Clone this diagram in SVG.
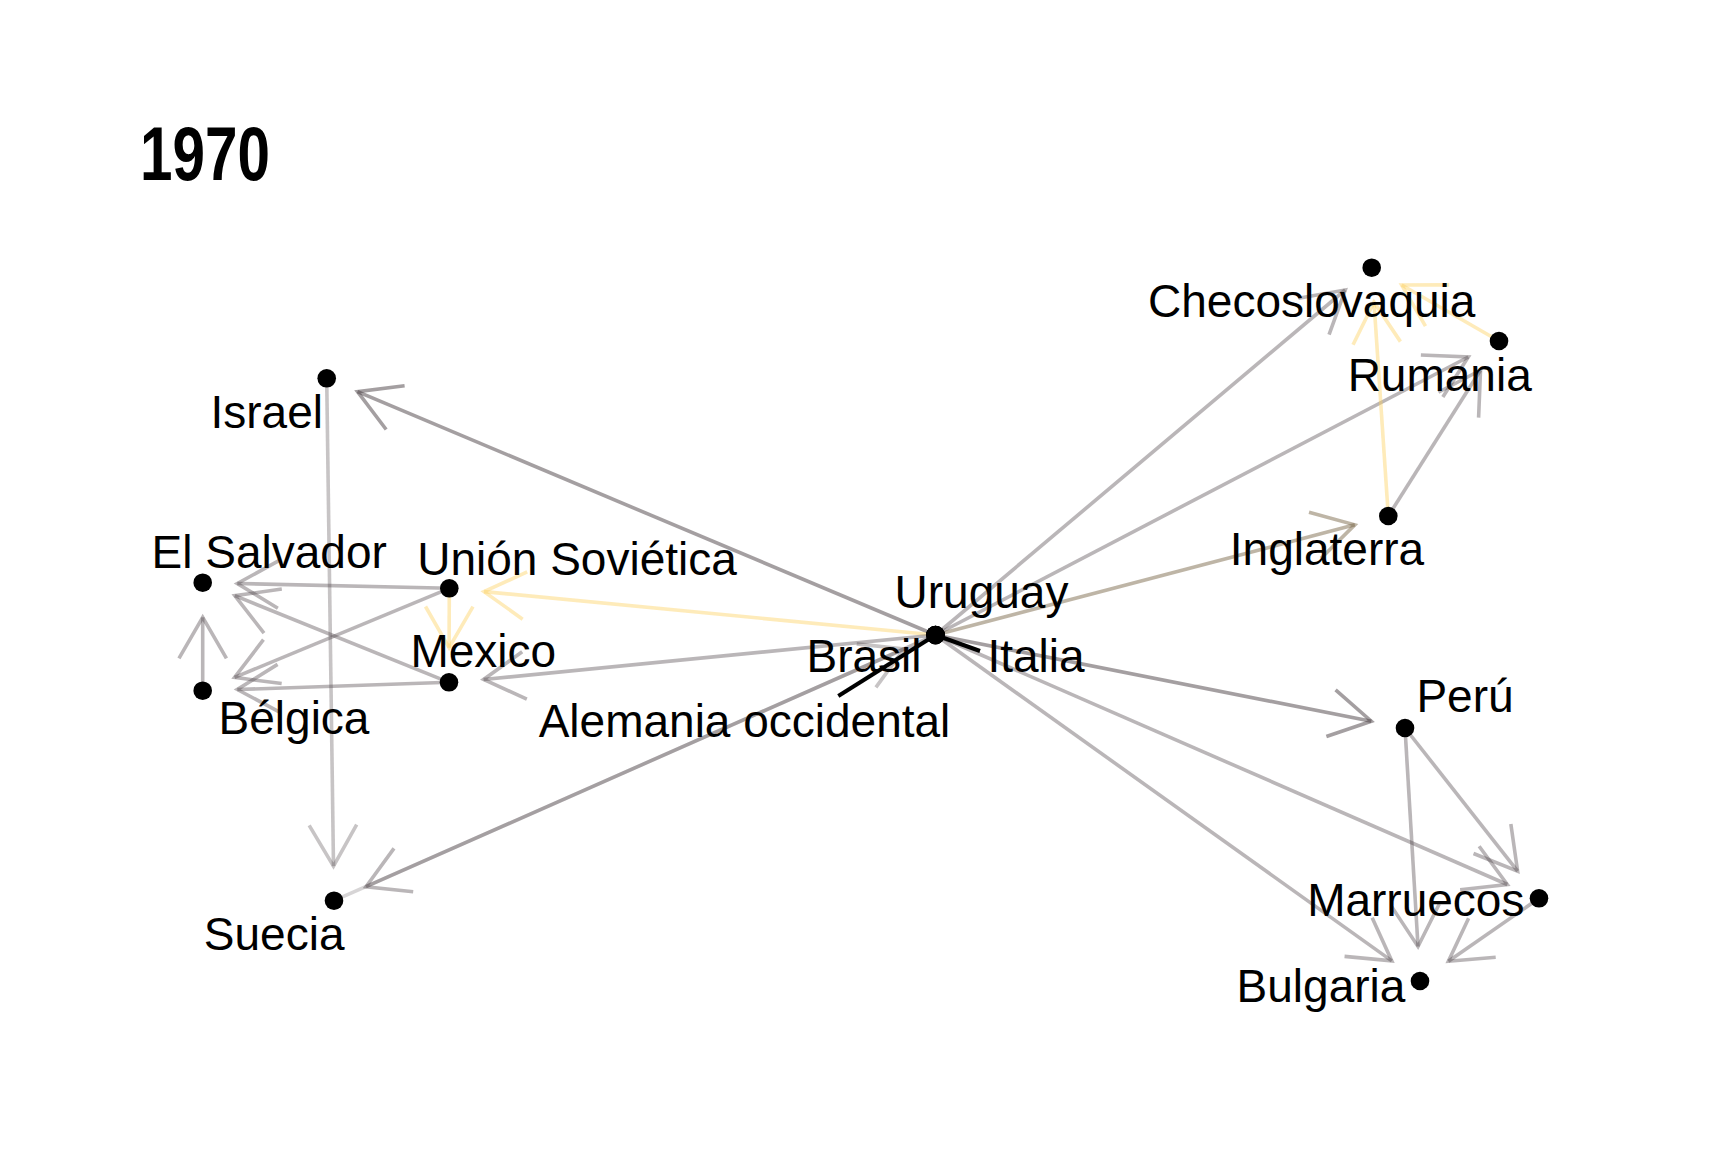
<svg xmlns="http://www.w3.org/2000/svg" width="1731" height="1153" viewBox="0 0 1731 1153">
<style>
  .e { fill: none; stroke-width: 3.6; stroke-linecap: butt; }
  .dk { stroke: #4a3f44; stroke-opacity: 0.5; marker-end: url(#mdk); }
  .md { stroke: #4a3f44; stroke-opacity: 0.38; marker-end: url(#mmd); }
  .lt { stroke: #4a3f44; stroke-opacity: 0.31; marker-end: url(#mlt); }
  .sv { stroke: #4a3f44; stroke-opacity: 0.36; marker-end: url(#mmd); }
  .sr { stroke: #4a3f44; stroke-opacity: 0.22; marker-end: url(#mlt); }
  .yl { stroke: #fdcf5b; stroke-opacity: 0.42; marker-end: url(#myl); }
  .tn { stroke: #6e5a3a; stroke-opacity: 0.45; marker-end: url(#mtn); }
  .dot { fill: #000; }
  .lbl { font-family: "Liberation Sans", Arial, Helvetica, sans-serif; font-size: 46px; fill: #000; text-anchor: middle; }
  .lead { stroke: #000; stroke-width: 4; fill: none; }
  .title { font-family: "Liberation Sans", Arial, Helvetica, sans-serif; font-size: 76px; font-weight: bold; fill: #000; }
</style>
<defs>
  <marker id="mdk" markerUnits="userSpaceOnUse" orient="auto" markerWidth="1" markerHeight="1" refX="0" refY="0" style="overflow:visible">
    <path d="M-41.1,-23.75 L0,0 L-41.1,23.75" fill="none" stroke="#4a3f44" stroke-opacity="0.5" stroke-width="3.6"/>
  </marker>
  <marker id="mmd" markerUnits="userSpaceOnUse" orient="auto" markerWidth="1" markerHeight="1" refX="0" refY="0" style="overflow:visible">
    <path d="M-41.1,-23.75 L0,0 L-41.1,23.75" fill="none" stroke="#4a3f44" stroke-opacity="0.38" stroke-width="3.6"/>
  </marker>
  <marker id="mlt" markerUnits="userSpaceOnUse" orient="auto" markerWidth="1" markerHeight="1" refX="0" refY="0" style="overflow:visible">
    <path d="M-41.1,-23.75 L0,0 L-41.1,23.75" fill="none" stroke="#4a3f44" stroke-opacity="0.31" stroke-width="3.6"/>
  </marker>
  <marker id="myl" markerUnits="userSpaceOnUse" orient="auto" markerWidth="1" markerHeight="1" refX="0" refY="0" style="overflow:visible">
    <path d="M-41.1,-23.75 L0,0 L-41.1,23.75" fill="none" stroke="#fdcf5b" stroke-opacity="0.42" stroke-width="3.6"/>
  </marker>
  <marker id="mtn" markerUnits="userSpaceOnUse" orient="auto" markerWidth="1" markerHeight="1" refX="0" refY="0" style="overflow:visible">
    <path d="M-41.1,-23.75 L0,0 L-41.1,23.75" fill="none" stroke="#6e5a3a" stroke-opacity="0.45" stroke-width="3.6"/>
  </marker>
</defs>
<rect width="1731" height="1153" fill="#fff"/>
<text class="title" x="140" y="180" textLength="130" lengthAdjust="spacingAndGlyphs">1970</text>

<g id="connectors">
  <line class="e dk" x1="935.5" y1="635" x2="357.5" y2="391.7"/>
  <line class="e sv" x1="935.5" y1="635" x2="366" y2="886.7"/>
  <line class="e sr" x1="334" y1="900.7" x2="903.9" y2="649"/>
  <line class="e yl" x1="935.5" y1="635" x2="484" y2="591.6"/>
  <line class="e md" x1="935.5" y1="635" x2="483.6" y2="679.5"/>
  <line class="e md" x1="935.5" y1="635" x2="1345.2" y2="290"/>
  <line class="e md" x1="935.5" y1="635" x2="1468.3" y2="357"/>
  <line class="e md" x1="1388.3" y1="516" x2="1480.5" y2="370.2"/>
  <line class="e yl" x1="1388.3" y1="516" x2="1374" y2="302.2"/>
  <line class="e yl" x1="1499" y1="341" x2="1401.7" y2="285"/>
  <line class="e tn" x1="935.5" y1="635" x2="1354.8" y2="524.8"/>
  <line class="e dk" x1="935.5" y1="635" x2="1371.3" y2="721.2"/>
  <line class="e md" x1="935.5" y1="635" x2="1507.3" y2="884.5"/>
  <line class="e md" x1="935.5" y1="635" x2="1391.8" y2="960.9"/>
  <line class="e md" x1="1405" y1="728" x2="1517.6" y2="871.1"/>
  <line class="e md" x1="1405" y1="728" x2="1418" y2="946.5"/>
  <line class="e md" x1="1539" y1="898.3" x2="1448.4" y2="961.2"/>
  <line class="e lt" x1="326.7" y1="378.3" x2="333.5" y2="866.1"/>
  <line class="e md" x1="449.3" y1="588.3" x2="237.3" y2="583.5"/>
  <line class="e md" x1="449" y1="682.3" x2="234.8" y2="595.7"/>
  <line class="e md" x1="449.3" y1="588.3" x2="234.6" y2="677.4"/>
  <line class="e md" x1="449" y1="682.3" x2="237.3" y2="689.5"/>
  <line class="e md" x1="202.7" y1="690.7" x2="202.7" y2="617.3"/>
  <line class="e yl" x1="449.3" y1="588.3" x2="449.1" y2="647.7"/>
</g>

<g id="node-checoslovaquia"><circle class="dot" cx="1371.7" cy="267.7" r="9.3"/><text class="lbl" x="1311.7" y="317.3">Checoslovaquia</text></g>
<g id="node-rumania"><circle class="dot" cx="1499" cy="341" r="9.3"/><text class="lbl" x="1439.7" y="391">Rumania</text></g>
<g id="node-inglaterra"><circle class="dot" cx="1388.3" cy="516" r="9.3"/><text class="lbl" x="1327" y="565">Inglaterra</text></g>
<g id="node-israel"><circle class="dot" cx="326.7" cy="378.3" r="9.3"/><text class="lbl" x="266.7" y="428.3">Israel</text></g>
<g id="node-el-salvador"><circle class="dot" cx="202.7" cy="582.7" r="9.3"/><text class="lbl" x="269.2" y="567.7">El Salvador</text></g>
<g id="node-union-sovietica"><circle class="dot" cx="449.3" cy="588.3" r="9.3"/><text class="lbl" x="577" y="575">Unión Soviética</text></g>
<g id="node-mexico"><circle class="dot" cx="449" cy="682.3" r="9.3"/><text class="lbl" x="483.3" y="667.3">Mexico</text></g>
<g id="node-belgica"><circle class="dot" cx="202.7" cy="690.7" r="9.3"/><text class="lbl" x="294" y="734">Bélgica</text></g>
<g id="node-suecia"><circle class="dot" cx="334" cy="900.7" r="9.3"/><text class="lbl" x="274.2" y="950">Suecia</text></g>
<g id="node-peru"><circle class="dot" cx="1405" cy="728" r="9.3"/><text class="lbl" x="1465" y="712.3">Perú</text></g>
<g id="node-marruecos"><circle class="dot" cx="1539" cy="898.3" r="9.3"/><text class="lbl" x="1415.8" y="915.7">Marruecos</text></g>
<g id="node-bulgaria"><circle class="dot" cx="1420" cy="981" r="9.3"/><text class="lbl" x="1321" y="1001.7">Bulgaria</text></g>
<g id="node-uruguay"><circle class="dot" cx="935.5" cy="635" r="9.3"/><text class="lbl" x="981.5" y="608.3">Uruguay</text></g>
<g id="node-brasil"><circle class="dot" cx="935.5" cy="635" r="9.3"/><text class="lbl" x="864" y="671.7">Brasil</text></g>
<g id="node-italia"><circle class="dot" cx="935.5" cy="635" r="9.3"/><line class="lead" x1="935.5" y1="635" x2="980" y2="651"/><text class="lbl" x="1036" y="671.7">Italia</text></g>
<g id="node-alemania-occidental"><circle class="dot" cx="935.5" cy="635" r="9.3"/><line class="lead" x1="935.5" y1="635" x2="838.3" y2="696"/><text class="lbl" x="744.5" y="737">Alemania occidental</text></g>
</svg>
